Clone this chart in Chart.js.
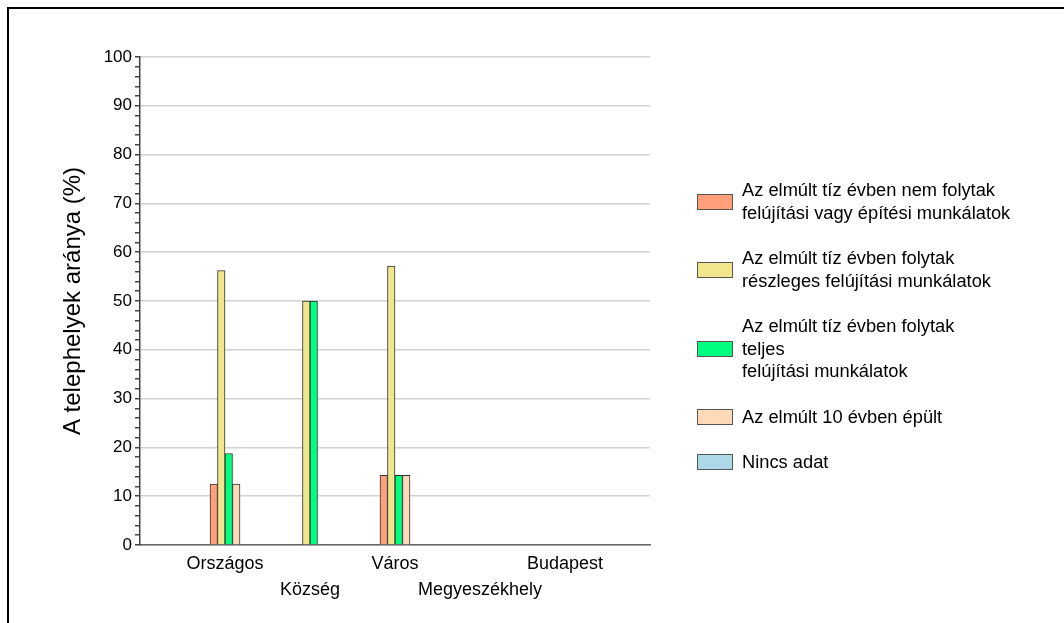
<!DOCTYPE html>
<html lang="hu">
<head>
<meta charset="utf-8">
<title>Telephelyek felújítása</title>
<script src="https://cdn.jsdelivr.net/npm/chart.js@4/dist/chart.umd.min.js"></script>
<style>
  html, body { margin: 0; padding: 0; background: #fff; }
  body { width: 1064px; height: 623px; position: relative; overflow: hidden; font-family: 'Liberation Sans', Arial, sans-serif; }
  .frame { position: absolute; left: 7px; top: 7px; width: 1100px; height: 700px; border-left: 2px solid #000; border-top: 2px solid #000; }
  .wrap { position: absolute; left: 0; top: 0; width: 1064px; height: 623px; }
  #legend { position: absolute; left: 697px; top: 179px; }
  .item { display: flex; align-items: center; margin-bottom: 23px; }
  .swatch { width: 34px; height: 14px; border: 1px solid #555; margin-right: 9px; flex: none; }
  .text { font-size: 18.3px; line-height: 22.5px; color: #000; white-space: nowrap; }
</style>
</head>
<body>
<div class="frame"></div>
<div class="wrap"><canvas id="chart"></canvas></div>
<div id="legend"></div>
<script>
/* Adatok */
const categories = ['Országos', 'Község', 'Város', 'Megyeszékhely', 'Budapest'];
const seriesLabels = [
  ['Az elmúlt tíz évben nem folytak', 'felújítási vagy építési munkálatok'],
  ['Az elmúlt tíz évben folytak', 'részleges felújítási munkálatok'],
  ['Az elmúlt tíz évben folytak', 'teljes', 'felújítási munkálatok'],
  ['Az elmúlt 10 évben épült'],
  ['Nincs adat'],
];
const seriesColors = ['#FFA07A', '#F0E68C', '#00FF7F', '#FFDAB9', '#ADD8E6'];
// null = nincs oszlop az adott kategóriában
const noWorks = [12.5, null, 14.29, null, null];
const partialWorks = [56.25, 50, 57.14, null, null];
const fullWorks = [18.75, 50, 14.29, null, null];
const builtRecently = [12.5, null, 14.29, null, null];
const noData = [null, null, null, null, null];
const yMin = 0, yMax = 100, yMajor = 10, yMinor = 2;
const yTitle = 'A telephelyek aránya (%)';

const seriesValues = [noWorks, partialWorks, fullWorks, builtRecently, noData];
const FONT = "'Liberation Sans', Arial, sans-serif";

const datasets = seriesValues.map((vals, s) => ({
  label: seriesLabels[s].join(' '),
  data: vals.map((v, i) => ({ x: i + 1, y: v })),
  backgroundColor: seriesColors[s],
  borderColor: '#333',
  borderWidth: 1,
  barThickness: 7.5,
  skipNull: true,
}));

new Chart(document.getElementById('chart'), {
  type: 'bar',
  data: { datasets },
  options: {
    responsive: true, maintainAspectRatio: false,
    animation: false,
    layout: { padding: { left: 59, top: 57, right: 414, bottom: 18 } },
    plugins: { legend: { display: false }, tooltip: { enabled: false } },
    scales: {
      x: {
        type: 'linear', min: 0, max: categories.length + 1, offset: false,
        grid: { display: false, offset: false },
        border: { display: true, color: '#666', width: 1.5 },
        ticks: {
          stepSize: 1, autoSkip: false, maxRotation: 0, padding: -2,
          color: '#000', font: { family: FONT, size: 18, lineHeight: 1.45 },
          callback: (v) => {
            const name = categories[v - 1];
            if (!name) return '';
            return v % 2 === 0 ? ['', name] : name;
          },
        },
        afterFit: (scale) => { scale.height = 60; },
      },
      y: {
        min: yMin, max: yMax,
        border: { display: true, color: '#444', width: 1.5 },
        grid: {
          color: (ctx) => (ctx.tick && ctx.tick.value % yMajor === 0 ? '#d2d2d2' : 'rgba(0,0,0,0)'),
          lineWidth: 1.5,
          tickColor: '#444', tickLength: 5, drawTicks: true,
        },
        ticks: {
          stepSize: yMinor, autoSkip: false, padding: 3,
          color: '#000', font: { family: FONT, size: 17 },
          callback: (v) => (v % yMajor === 0 ? v : ''),
        },
        title: {
          display: true, text: yTitle, color: '#000',
          font: { family: FONT, size: 24 }, padding: { top: 0, bottom: 0 },
        },
        afterFit: (scale) => { scale.width = 81; },
      },
    },
  },
});

/* HTML jelmagyarázat */
const legend = document.getElementById('legend');
seriesLabels.forEach((lines, s) => {
  const item = document.createElement('div');
  item.className = 'item';
  const sw = document.createElement('span');
  sw.className = 'swatch';
  sw.style.background = seriesColors[s];
  const tx = document.createElement('span');
  tx.className = 'text';
  tx.innerHTML = lines.join('<br>');
  item.appendChild(sw);
  item.appendChild(tx);
  legend.appendChild(item);
});
</script>
</body>
</html>
